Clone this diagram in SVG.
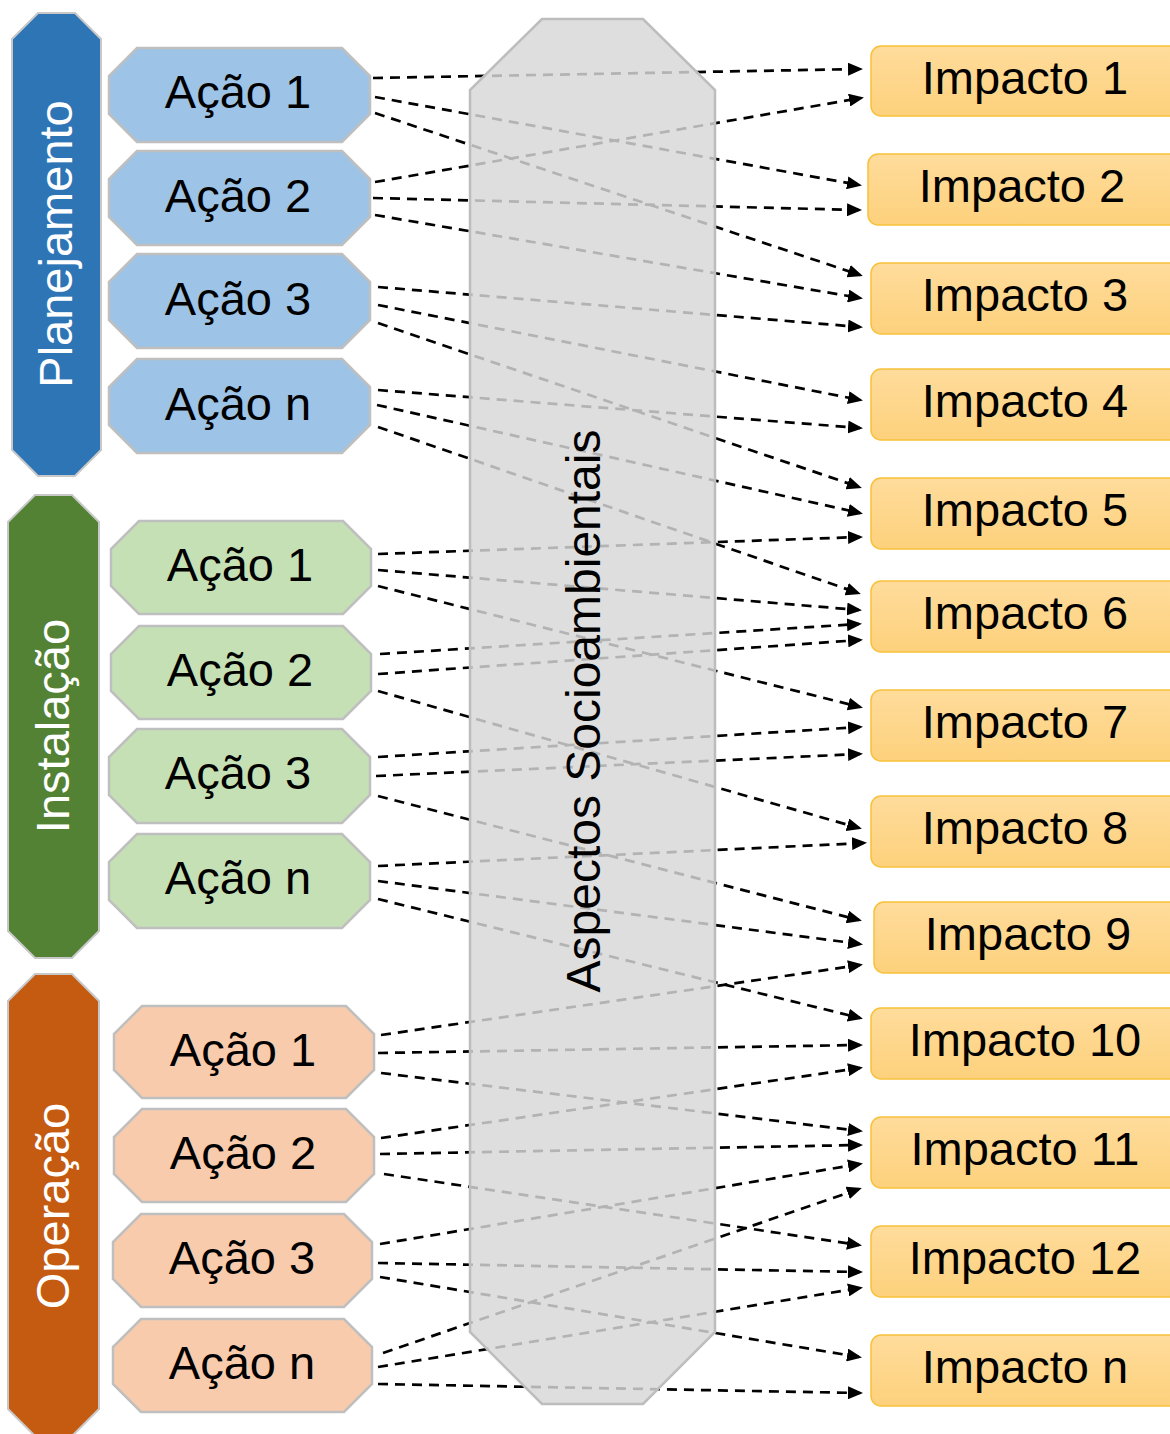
<svg xmlns="http://www.w3.org/2000/svg" width="1170" height="1434" viewBox="0 0 1170 1434">
<defs>
<linearGradient id="impGrad" x1="0" y1="0" x2="0" y2="1">
<stop offset="0" stop-color="#ffdc9c"/>
<stop offset="1" stop-color="#fdd17c"/>
</linearGradient>
<marker id="arr" markerUnits="userSpaceOnUse" markerWidth="16" markerHeight="13" refX="12" refY="6.5" orient="auto">
<path d="M0,0 L15,6.5 L0,13 z" fill="#000"/>
</marker>
<style>
text { font-family: "Liberation Sans", Arial, sans-serif; }
.phase { stroke: #c8c8c8; stroke-width: 2; }
.act { stroke: #bfbfbf; stroke-width: 2.5; }
.blue-p { fill: #2e75b6; }
.green-p { fill: #548235; }
.orange-p { fill: #c55a11; }
.blue-a { fill: #9dc3e6; }
.green-a { fill: #c5e0b4; }
.orange-a { fill: #f8cbad; }
.plabel { fill: #ffffff; font-size: 47px; text-anchor: middle; }
.alabel { fill: #000000; font-size: 47px; text-anchor: middle; }
.ilabel { fill: #000000; font-size: 47px; text-anchor: middle; }
.imp { fill: url(#impGrad); stroke: #f7c13a; stroke-width: 1.5; }
.conn line { stroke: #000; stroke-width: 2.7; stroke-dasharray: 10 7; fill: none; marker-end: url(#arr); }
.center { fill: #d7d7d7; fill-opacity: 0.83; stroke: #bdbdbd; stroke-width: 2.5; }
.clabel { fill: #000; font-size: 48px; text-anchor: middle; }
</style>
</defs>
<rect width="1170" height="1434" fill="#ffffff"/>

<!-- Phase nodes -->
<g id="phase-planejamento">
<polygon class="phase blue-p" points="38,13 75,13 101,39 101,450 75,476 38,476 12,450 12,39"/>
<text class="plabel" transform="translate(72,244) rotate(-90)">Planejamento</text>
</g>
<g id="phase-instalacao">
<polygon class="phase green-p" points="35,495 72,495 99,522 99,931 72,958 35,958 8,931 8,522"/>
<text class="plabel" transform="translate(69,726) rotate(-90)">Instalação</text>
</g>
<g id="phase-operacao">
<polygon class="phase orange-p" points="35,974 72,974 99,1001 99,1409 72,1436 35,1436 8,1409 8,1001"/>
<text class="plabel" transform="translate(69,1206) rotate(-90)">Operação</text>
</g>

<!-- Planejamento actions -->
<g id="p-acao1">
<polygon class="act blue-a" points="137,48 342,48 370,76 370,114 342,142 137,142 109,114 109,76"/>
<text class="alabel" x="238" y="108">Ação 1</text>
</g>
<g id="p-acao2">
<polygon class="act blue-a" points="137,151 342,151 370,179 370,217 342,245 137,245 109,217 109,179"/>
<text class="alabel" x="238" y="212">Ação 2</text>
</g>
<g id="p-acao3">
<polygon class="act blue-a" points="137,254 342,254 370,282 370,320 342,348 137,348 109,320 109,282"/>
<text class="alabel" x="238" y="315">Ação 3</text>
</g>
<g id="p-acaon">
<polygon class="act blue-a" points="137,359 342,359 370,387 370,425 342,453 137,453 109,425 109,387"/>
<text class="alabel" x="238" y="420">Ação n</text>
</g>

<!-- Instalação actions -->
<g id="i-acao1">
<polygon class="act green-a" points="139,521 343,521 371,549 371,586 343,614 139,614 111,586 111,549"/>
<text class="alabel" x="240" y="581">Ação 1</text>
</g>
<g id="i-acao2">
<polygon class="act green-a" points="139,626 343,626 371,654 371,691 343,719 139,719 111,691 111,654"/>
<text class="alabel" x="240" y="686">Ação 2</text>
</g>
<g id="i-acao3">
<polygon class="act green-a" points="137,729 342,729 370,757 370,795 342,823 137,823 109,795 109,757"/>
<text class="alabel" x="238" y="789">Ação 3</text>
</g>
<g id="i-acaon">
<polygon class="act green-a" points="137,834 342,834 370,862 370,900 342,928 137,928 109,900 109,862"/>
<text class="alabel" x="238" y="894">Ação n</text>
</g>

<!-- Operação actions -->
<g id="o-acao1">
<polygon class="act orange-a" points="142,1006 346,1006 374,1034 374,1070 346,1098 142,1098 114,1070 114,1034"/>
<text class="alabel" x="243" y="1066">Ação 1</text>
</g>
<g id="o-acao2">
<polygon class="act orange-a" points="142,1109 346,1109 374,1137 374,1174 346,1202 142,1202 114,1174 114,1137"/>
<text class="alabel" x="243" y="1169">Ação 2</text>
</g>
<g id="o-acao3">
<polygon class="act orange-a" points="141,1214 344,1214 372,1242 372,1279 344,1307 141,1307 113,1279 113,1242"/>
<text class="alabel" x="242" y="1274">Ação 3</text>
</g>
<g id="o-acaon">
<polygon class="act orange-a" points="141,1319 344,1319 372,1347 372,1384 344,1412 141,1412 113,1384 113,1347"/>
<text class="alabel" x="242" y="1379">Ação n</text>
</g>

<!-- Connectors -->
<g id="connectors" class="conn">
<line x1="373" y1="78" x2="860" y2="69"/>
<line x1="375" y1="97" x2="859" y2="185"/>
<line x1="375" y1="113" x2="860" y2="275"/>
<line x1="375" y1="182" x2="861" y2="98"/>
<line x1="373" y1="198" x2="859" y2="210"/>
<line x1="375" y1="215" x2="860" y2="298"/>
<line x1="378" y1="287" x2="860" y2="327"/>
<line x1="378" y1="305" x2="860" y2="400"/>
<line x1="378" y1="323" x2="859" y2="487"/>
<line x1="378" y1="390" x2="860" y2="428"/>
<line x1="377" y1="405" x2="860" y2="513"/>
<line x1="378" y1="427" x2="858" y2="593"/>
<line x1="378" y1="554" x2="860" y2="537"/>
<line x1="378" y1="570" x2="859" y2="610"/>
<line x1="378" y1="586" x2="860" y2="707"/>
<line x1="380" y1="654" x2="859" y2="624"/>
<line x1="378" y1="674" x2="860" y2="640"/>
<line x1="378" y1="691" x2="859" y2="828"/>
<line x1="378" y1="757" x2="860" y2="727"/>
<line x1="376" y1="776" x2="860" y2="754"/>
<line x1="378" y1="796" x2="859" y2="920"/>
<line x1="378" y1="866" x2="864" y2="843"/>
<line x1="378" y1="881" x2="860" y2="944"/>
<line x1="378" y1="899" x2="860" y2="1018"/>
<line x1="381" y1="1035" x2="860" y2="965"/>
<line x1="378" y1="1053" x2="860" y2="1045"/>
<line x1="381" y1="1073" x2="860" y2="1131"/>
<line x1="381" y1="1138" x2="860" y2="1068"/>
<line x1="380" y1="1154" x2="860" y2="1145"/>
<line x1="384" y1="1174" x2="859" y2="1245"/>
<line x1="380" y1="1244" x2="860" y2="1164"/>
<line x1="378" y1="1263" x2="860" y2="1272"/>
<line x1="380" y1="1277" x2="859" y2="1357"/>
<line x1="383" y1="1353" x2="859" y2="1189"/>
<line x1="378" y1="1367" x2="860" y2="1288"/>
<line x1="378" y1="1384" x2="860" y2="1393"/>
</g>

<!-- Central aspects node -->
<g id="aspectos">
<polygon class="center" points="542,19 643,19 715,90 715,1332 643,1404 542,1404 470,1332 470,90"/>
<text class="clabel" transform="translate(600,711) rotate(-90)">Aspectos Socioambientais</text>
</g>

<!-- Impact nodes -->
<g id="impacto1"><rect class="imp" x="871" y="46" width="310" height="70" rx="10"/><text class="ilabel" x="1025" y="94">Impacto 1</text></g>
<g id="impacto2"><rect class="imp" x="868" y="154" width="313" height="71" rx="10"/><text class="ilabel" x="1022" y="202">Impacto 2</text></g>
<g id="impacto3"><rect class="imp" x="871" y="263" width="310" height="71" rx="10"/><text class="ilabel" x="1025" y="311">Impacto 3</text></g>
<g id="impacto4"><rect class="imp" x="871" y="369" width="310" height="71" rx="10"/><text class="ilabel" x="1025" y="417">Impacto 4</text></g>
<g id="impacto5"><rect class="imp" x="871" y="478" width="310" height="71" rx="10"/><text class="ilabel" x="1025" y="526">Impacto 5</text></g>
<g id="impacto6"><rect class="imp" x="871" y="581" width="310" height="71" rx="10"/><text class="ilabel" x="1025" y="629">Impacto 6</text></g>
<g id="impacto7"><rect class="imp" x="871" y="690" width="310" height="71" rx="10"/><text class="ilabel" x="1025" y="738">Impacto 7</text></g>
<g id="impacto8"><rect class="imp" x="871" y="796" width="310" height="71" rx="10"/><text class="ilabel" x="1025" y="844">Impacto 8</text></g>
<g id="impacto9"><rect class="imp" x="874" y="902" width="307" height="71" rx="10"/><text class="ilabel" x="1028" y="950">Impacto 9</text></g>
<g id="impacto10"><rect class="imp" x="871" y="1008" width="310" height="71" rx="10"/><text class="ilabel" x="1025" y="1056">Impacto 10</text></g>
<g id="impacto11"><rect class="imp" x="871" y="1117" width="310" height="71" rx="10"/><text class="ilabel" x="1025" y="1165">Impacto 11</text></g>
<g id="impacto12"><rect class="imp" x="871" y="1226" width="310" height="71" rx="10"/><text class="ilabel" x="1025" y="1274">Impacto 12</text></g>
<g id="impacton"><rect class="imp" x="871" y="1335" width="310" height="71" rx="10"/><text class="ilabel" x="1025" y="1383">Impacto n</text></g>
</svg>
